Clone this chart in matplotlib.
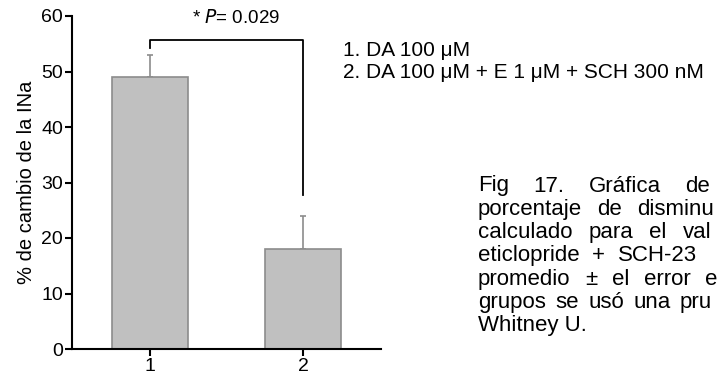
import numpy as np
import matplotlib
matplotlib.use("Agg")
from matplotlib import pyplot as plt

plt.rcParams['font.family'] = ['Liberation Sans', 'DejaVu Sans']

# data
groups = [1, 2]
means = [49, 18]
sem = [4, 6]
bracket_y = 55.7
bracket_left_end = 54.2
bracket_right_end = 27.7
p_text = "* $\\mathit{P}$= 0.029"
legend_lines = ["1. DA 100 \u03bcM", "2. DA 100 \u03bcM + E 1 \u03bcM + SCH 300 nM"]
# caption as visible in the (cropped) reference
caption_lines = [
    "Fig 17. Gráfica de",
    "porcentaje de disminu",
    "calculado para el val",
    "eticlopride + SCH-23",
    "promedio \u00b1 el error e",
    "grupos se usó una pru",
    "Whitney U.",
]
# pixel x where the last word of each justified line starts (None = not justified)
caption_last_x = [685, 637, 683, 618, 705, 680, None]

fig = plt.figure(figsize=(7.17, 3.78), dpi=100)
W, H = 717, 378
ax = fig.add_axes([72 / W, 29 / H, (381 - 72) / W, (349 - 16) / H])

ax.bar(groups, means, width=0.5, color='#c0c0c0', edgecolor='#8c8c8c', linewidth=1.2, zorder=2)
ax.errorbar(groups, means, yerr=[np.zeros(len(sem)), sem], fmt='none',
            ecolor='#8c8c8c', elinewidth=1.2, capsize=2.5, capthick=1.2, zorder=1)

# significance bracket
ax.plot([groups[0], groups[0], groups[1], groups[1]],
        [bracket_left_end, bracket_y, bracket_y, bracket_right_end],
        color='black', lw=1.3, clip_on=False)
ax.text(1.56, 59.6, p_text, ha='center', va='center', fontsize=13.5)

ax.set_xlim(0.49, 2.51)
ax.set_ylim(0, 60)
ax.set_yticks([0, 10, 20, 30, 40, 50, 60])
ax.set_xticks(groups)
for s in ['top', 'right']:
    ax.spines[s].set_visible(False)
for s in ['left', 'bottom']:
    ax.spines[s].set_linewidth(1.5)
ax.tick_params(axis='both', length=5, width=1.5, labelsize=14, pad=1.5)
ax.set_ylabel('% de cambio de la INa', fontsize=14.5, labelpad=4)

for i, t in enumerate(legend_lines):
    fig.text(343 / W, 1 - (50 + i * 22) / H, t, fontsize=15, va='center', ha='left')

# caption, justified word by word
renderer = fig.canvas.get_renderer()
x0 = 478
for i, line in enumerate(caption_lines):
    y = 1 - (186 + i * 23.3) / H
    last_x = caption_last_x[i]
    if last_x is None:
        fig.text(x0 / W, y, line, fontsize=16, va='center', ha='left')
        continue
    words = line.split(' ')
    txts = [fig.text(0, y, w, fontsize=16, va='center', ha='left') for w in words]
    widths = [t.get_window_extent(renderer).width for t in txts]
    gap = (last_x - x0 - sum(widths[:-1])) / (len(words) - 1)
    x = x0
    for t, wd in zip(txts, widths):
        t.set_x(x / W)
        x += wd + gap

fig.savefig('out.png', dpi=100)
